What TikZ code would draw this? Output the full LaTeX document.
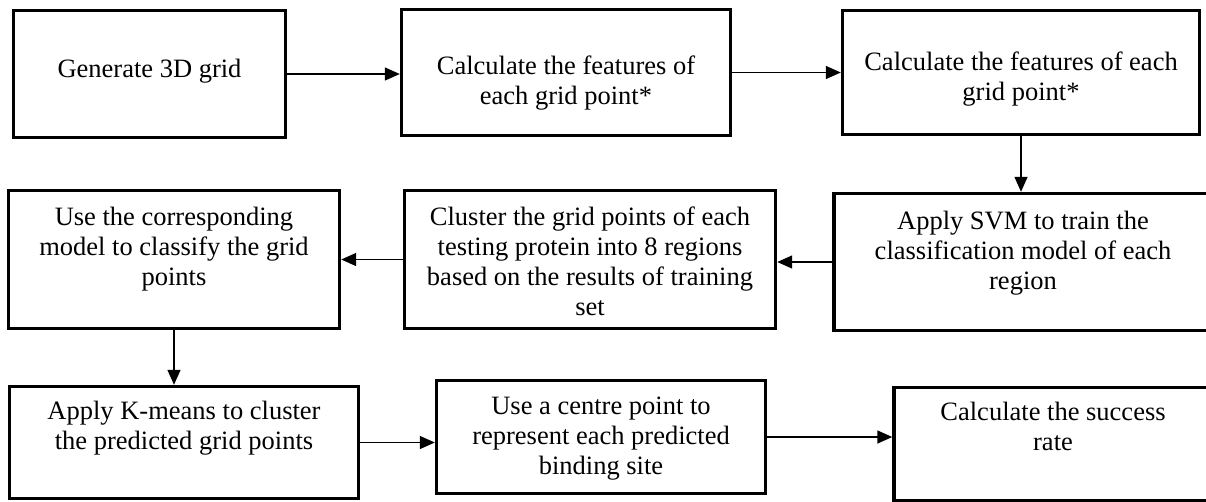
\documentclass[tikz,border=0pt]{standalone}
\usepackage{fontspec}
\setmainfont{Liberation Serif}
\usetikzlibrary{arrows.meta}

\tikzset{
    stepbox/.style={draw, line width=3.4pt, align=center, inner sep=0pt,
        text depth=0pt, font=\fontsize{26.5}{30}\selectfont},
    flow/.style={-{Triangle[length=15pt,width=13pt]}, line width=1.4pt},
}

\begin{document}
\begin{tikzpicture}[x=1pt, y=-1pt]
    \useasboundingbox (0,0) rectangle (1206,501);
    \node[stepbox, minimum width=272pt, minimum height=127pt, text height=6pt] (grid) at (149.5,74) {Generate 3D grid};
    \node[stepbox, minimum width=329pt, minimum height=126pt, text height=63pt] (feata) at (566,72.5) {Calculate the features of\\each grid point*};
    \node[stepbox, minimum width=357pt, minimum height=124pt, text height=55pt] (featb) at (1021,72.5) {Calculate the features of each\\grid point*};
    \node[stepbox, minimum width=378pt, minimum height=137pt, text height=54pt] (svm) at (1023,262) {Apply SVM to train the\\classification model of each\\region};
    \node[stepbox, minimum width=371pt, minimum height=138pt, text height=111pt] (clus) at (590,259.5) {Cluster the grid points of each\\testing protein into 8 regions\\based on the results of training\\set};
    \node[stepbox, minimum width=331pt, minimum height=138pt, text height=51pt] (classify) at (174,259.5) {Use the corresponding\\model to classify the grid\\points};
    \node[stepbox, minimum width=349pt, minimum height=112pt, text height=13pt] (kmeans) at (184,442.5) {Apply K-means to cluster\\the predicted grid points};
    \node[stepbox, minimum width=329pt, minimum height=113pt, text height=74pt] (centre) at (601,437) {Use a centre point to\\represent each predicted\\binding site};
    \node[stepbox, minimum width=318pt, minimum height=113pt, text height=12pt] (rate) at (1053,444) {Calculate the success\\rate};

    \draw[flow] (grid.east) -- (grid.east -| feata.west);
    \draw[flow] (feata.east) -- (feata.east -| featb.west);
    \draw[flow] (featb.south) -- (featb.south |- svm.north);
    \draw[flow] (svm.west) -- (svm.west -| clus.east);
    \draw[flow] (clus.west) -- (clus.west -| classify.east);
    \draw[flow] (classify.south) -- (classify.south |- kmeans.north);
    \draw[flow] (kmeans.east) -- (kmeans.east -| centre.west);
    \draw[flow] (centre.east) -- (centre.east -| rate.west);
\end{tikzpicture}
\end{document}
